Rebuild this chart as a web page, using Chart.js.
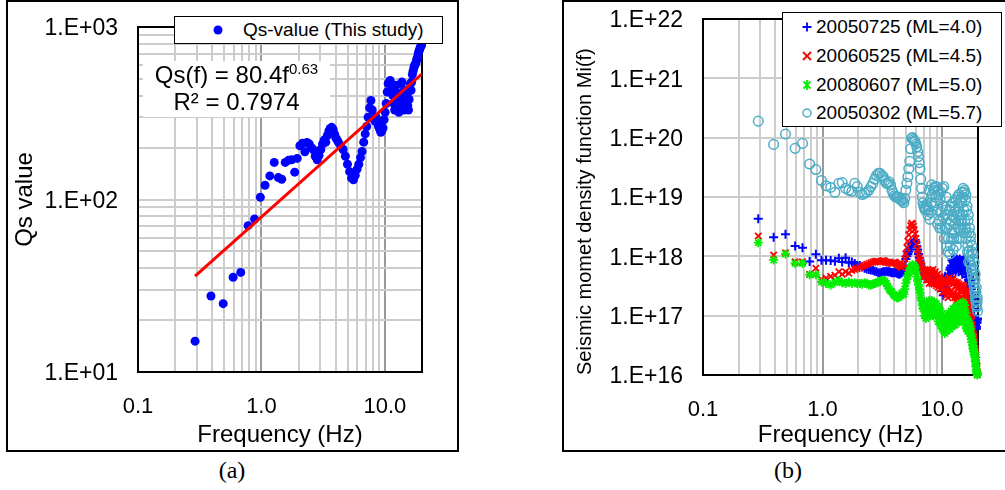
<!DOCTYPE html>
<html>
<head>
<meta charset="utf-8">
<script src="https://cdn.jsdelivr.net/npm/chart.js@4.4.0/dist/chart.umd.min.js"></script>
<style>
  body { margin: 0; background: #fff; }
  #page { position: relative; width: 1005px; height: 490px; overflow: hidden; font-family: 'Liberation Sans', Arial, sans-serif; color: #000; }
  .panel { position: absolute; top: 0; height: 452px; border: 2px solid #000; box-sizing: border-box; }
  canvas { position: absolute; }
  .legend { position: absolute; background: #fff; border: 1.5px solid #000; box-sizing: border-box; font-size: 19px; }
  .row { position: absolute; left: 0; right: 0; height: 28px; line-height: 28px; white-space: nowrap; }
  .row svg { position: absolute; top: 8px; }
  .row span { position: absolute; }
  #eq { position: absolute; left: 143px; top: 61px; width: 187px; height: 56px; background: #fff; font-size: 24px; line-height: 27px; text-align: center; }
  #eq sup { font-size: 15px; line-height: 0; vertical-align: 9px; }
  .caption { position: absolute; top: 456px; width: 64px; text-align: center; font: 24px 'Liberation Serif', 'Times New Roman', serif; line-height: 28px; }
</style>
</head>
<body>
<div id="page">
  <div class="panel" style="left:6px;width:453px"></div>
  <div class="panel" style="left:562px;width:460px"></div>
  <canvas id="chartA" width="449" height="448" style="left:8px;top:2px"></canvas>
  <canvas id="chartB" width="440" height="448" style="left:565px;top:2px"></canvas>

  <div id="eq">Qs(f) = 80.4f<sup>0.63</sup><br>R² = 0.7974</div>

  <div class="legend" style="left:174px;top:16px;width:269px;height:28px">
    <div class="row" style="top:-1.5px">
      <svg width="12" height="12" style="left:37px"><circle cx="6" cy="6" r="4.5" fill="#0000ff"/></svg>
      <span style="left:68px">Qs-value (This study)</span>
    </div>
  </div>

  <div class="legend" style="left:782px;top:12px;width:220px;height:115px">
    <div class="row" style="top:0px">
      <svg width="12" height="12" style="left:18px"><path d="M1.5 6H10.5M6 1.5V10.5" stroke="#0000ff" stroke-width="1.8"/></svg>
      <span style="left:33px">20050725 (ML=4.0)</span>
    </div>
    <div class="row" style="top:29px">
      <svg width="12" height="12" style="left:18px"><path d="M2 2L10 10M10 2L2 10" stroke="#ff0000" stroke-width="1.8"/></svg>
      <span style="left:33px">20060525 (ML=4.5)</span>
    </div>
    <div class="row" style="top:58px">
      <svg width="12" height="12" style="left:18px"><path d="M2.5 2.5L9.5 9.5M9.5 2.5L2.5 9.5M6 1V11" stroke="#00ee00" stroke-width="1.8"/></svg>
      <span style="left:33px">20080607 (ML=5.0)</span>
    </div>
    <div class="row" style="top:86px">
      <svg width="12" height="12" style="left:18px"><circle cx="6" cy="6" r="4" fill="none" stroke="#4bacc6" stroke-width="1.5"/></svg>
      <span style="left:33px">20050302 (ML=5.7)</span>
    </div>
  </div>

  <div class="caption" style="left:200px">(a)</div>
  <div class="caption" style="left:756px">(b)</div>
</div>

<script>
// --- data: panel (a), Qs values ---
const freqA = [
  0.29, 0.39, 0.49, 0.59, 0.68, 0.78, 0.88, 0.98, 1.07, 1.17, 1.27, 1.37, 1.46, 1.56, 1.66, 1.76, 1.86, 1.95,
  2.05, 2.15, 2.25, 2.34, 2.44, 2.54, 2.64, 2.73, 2.83, 2.93, 3.03, 3.13, 3.22, 3.32, 3.42, 3.52, 3.61, 3.71, 3.81, 3.91, 4.00, 4.10, 4.20,
  4.39, 4.59, 4.79, 4.98, 5.18, 5.37, 5.57, 5.76, 5.96, 6.15, 6.35, 6.54, 6.74, 6.93, 7.13, 7.32, 7.52, 7.71, 7.91, 8.11, 8.30, 8.50, 8.69, 8.89, 9.08, 9.28, 9.47, 9.67, 9.86,
  10.06, 10.25, 10.45, 10.64, 10.84, 11.04, 11.23, 11.43, 11.62, 11.82, 12.01, 12.21, 12.40, 12.60, 12.79, 12.99, 13.18, 13.38, 13.57, 13.77,
  13.96, 14.16, 14.36, 14.55, 14.75, 14.94, 15.14, 15.33, 15.53, 15.72, 15.92, 16.11, 16.31, 16.50, 16.70, 16.89, 17.09, 17.29, 17.48, 17.68,
  17.87, 18.07, 18.26, 18.46, 18.65, 18.85, 19.04, 19.24, 19.43, 19.63, 19.82
];
const qsA = [
  15.1, 27.6, 24.9, 35.4, 37.8, 70.5, 77, 103, 121, 137, 164, 134, 131, 164, 169, 170, 144, 173,
  205, 212, 189, 214, 210, 200, 194, 178, 170, 180, 195, 210, 221, 215, 235, 250, 258, 262, 255, 240, 228, 222, 215,
  205, 195, 178, 160, 145, 133, 130, 138, 150, 160, 175, 190, 215, 240, 265, 300, 340, 375, 330, 295, 285, 300, 280, 265, 255, 245, 250, 260, 290,
  320, 360, 420, 470, 480, 490, 470, 440, 400, 360, 330, 420, 460, 380, 340, 320, 350, 400, 470, 480,
  420, 360, 330, 340, 380, 430, 400, 350, 330, 380, 430, 470, 430, 480, 530, 550, 570, 590, 600, 610,
  620, 640, 660, 670, 700, 720, 735, 750, 765, 775, 785
];
// power-law trend line, end points
const trendFreq = [0.29, 20];
const trendQs = [36, 535];

// --- data: panel (b), seismic moment density ---
const freqB = [
  0.29, 0.39, 0.49, 0.59, 0.68, 0.78, 0.88, 0.98, 1.07, 1.17, 1.27, 1.37, 1.46, 1.56, 1.66, 1.76, 1.86, 1.95,
  2.05, 2.25, 2.44, 2.64, 2.83, 3.03, 3.22, 3.42, 3.61, 3.81, 4.00, 4.20, 4.39, 4.59, 4.79, 4.98, 5.18, 5.37, 5.57, 5.76,
  5.96, 6.15, 6.35, 6.54, 6.74, 6.93, 7.13, 7.32, 7.52, 7.71, 7.91, 8.11, 8.30, 8.50, 8.69, 8.89, 9.08, 9.28, 9.47, 9.67, 9.86,
  10.06, 10.25, 10.45, 10.64, 10.84, 11.04, 11.23, 11.43, 11.62, 11.82, 12.01, 12.21, 12.40, 12.60, 12.79, 12.99, 13.18, 13.38, 13.57, 13.77,
  13.96, 14.16, 14.36, 14.55, 14.75, 14.94, 15.14, 15.33, 15.53, 15.72, 15.92, 16.11, 16.31, 16.50, 16.70, 16.89, 17.09, 17.29, 17.48, 17.68,
  17.87, 18.07, 18.26, 18.46, 18.65, 18.85, 19.04, 19.24, 19.43, 19.63, 19.82
];
// in-between samples above 2 Hz, where the points crowd together
const freqMid = [
  2.15, 2.34, 2.54, 2.73, 2.93, 3.13, 3.32, 3.52, 3.71, 3.91, 4.10, 4.30, 4.49, 4.69, 4.88, 5.08, 5.27, 5.47, 5.66, 5.86,
  6.05, 6.25, 6.45, 6.64, 6.84, 7.03, 7.23, 7.42, 7.62, 7.81,
  8.01, 8.20, 8.40, 8.59, 8.79, 8.98, 9.18, 9.38, 9.57, 9.77,
  9.96, 10.16, 10.35, 10.55, 10.74, 10.94, 11.13, 11.33, 11.52, 11.72,
  11.91, 12.11, 12.30, 12.50, 12.70, 12.89, 13.09, 13.28, 13.48, 13.67,
  13.87, 14.06, 14.26, 14.45, 14.65, 14.84, 15.04, 15.23, 15.43, 15.62,
  15.82, 16.02, 16.21, 16.41, 16.60, 16.80, 16.99, 17.19, 17.38, 17.58,
  17.77, 17.97, 18.16, 18.36, 18.55, 18.75, 18.95, 19.14, 19.34, 19.53, 19.73
];

const m20050725 = [
  4.3e18, 2.1e18, 2.35e18, 1.5e18, 1.4e18, 8.2e17, 1.08e18, 8.6e17, 8.6e17, 8.5e17, 8.3e17, 9.3e17, 8.0e17, 9.5e17, 7.8e17, 8.0e17, 7.6e17, 7.0e17,
  7.0e17, 6.3e17, 6.0e17, 5.8e17, 5.5e17, 5.2e17, 5.5e17, 5.6e17, 5.5e17, 5.3e17, 5.4e17, 5.2e17, 5.0e17, 5.3e17, 5.8e17, 9.0e17, 1.1e18, 1.3e18, 1.6e18, 1.7e18,
  1.9e18, 1.5e18, 1.1e18, 8.5e17, 6.5e17, 5.8e17, 5.0e17, 4.5e17, 4.8e17, 4.5e17, 4.2e17, 5.0e17, 4.8e17, 4.5e17, 4.0e17, 4.2e17, 3.8e17, 4.0e17, 3.6e17, 3.5e17, 3.6e17,
  3.0e17, 2.2e17, 3.8e17, 4.6e17, 2.4e17, 3.5e17, 5.0e17, 4.0e17, 6.0e17, 4.5e17, 7.0e17, 5.5e17, 8.0e17, 6.0e17, 8.5e17, 5.5e17, 7.5e17, 6.5e17, 8.0e17, 5.5e17,
  7.0e17, 8.0e17, 6.0e17, 7.5e17, 5.0e17, 7.0e17, 8.0e17, 6.0e17, 7.0e17, 5.0e17, 6.5e17, 5.5e17, 4.5e17, 6.0e17, 4.0e17, 4.5e17, 3.5e17, 3.0e17, 4.0e17, 2.5e17,
  2.0e17, 1.8e17, 1.5e17, 1.2e17, 9.0e16, 8.0e16, 7.0e16, 6.0e16, 6.5e16, 8.0e16, 9.0e16
];
const m20050725Mid = [
  6.6e17, 6.1e17, 5.9e17, 5.6e17, 5.3e17, 5.4e17, 5.5e17, 5.5e17, 5.4e17, 5.3e17, 5.3e17, 5.1e17, 5.1e17, 5.5e17, 7.0e17, 1.0e18, 1.2e18, 1.45e18, 1.65e18, 1.8e18,
  1.7e18, 1.3e18, 9.5e17, 7.5e17, 6.0e17, 5.4e17, 4.7e17, 4.6e17, 4.6e17, 4.3e17,
  4.6e17, 4.9e17, 4.6e17, 4.2e17, 4.1e17, 4.0e17, 3.9e17, 3.8e17, 3.5e17, 3.5e17,
  2.6e17, 3.3e17, 2.8e17, 3.2e17, 3.0e17, 2.8e17, 4.3e17, 4.8e17, 5.0e17, 6.5e17,
  6.0e17, 8.5e17, 6.5e17, 9.0e17, 7.0e17, 8.0e17, 6.0e17, 9.0e17, 7.0e17, 8.5e17,
  6.5e17, 9.0e17, 7.0e17, 8.5e17, 6.5e17, 8.5e17, 6.5e17, 9.0e17, 6.0e17, 8.0e17,
  6.0e17, 7.5e17, 5.0e17, 5.5e17, 5.0e17, 3.8e17, 4.5e17, 3.2e17, 3.5e17, 2.8e17,
  2.2e17, 1.9e17, 1.6e17, 1.3e17, 1.0e17, 8.5e16, 7.5e16, 6.5e16, 6.0e16, 7.5e16, 8.5e16
];
const m20060525 = [
  2.2e18, 1.05e18, 1.15e18, 8.1e17, 8.1e17, 5.0e17, 6.3e17, 4.1e17, 4.3e17, 4.6e17, 4.8e17, 5.5e17, 5.0e17, 5.5e17, 5.2e17, 5.8e17, 6.0e17, 6.2e17,
  6.5e17, 7.0e17, 7.5e17, 8.0e17, 8.3e17, 8.0e17, 8.5e17, 8.0e17, 7.8e17, 7.5e17, 8.0e17, 7.5e17, 7.0e17, 6.5e17, 7.5e17, 1.1e18, 1.8e18, 2.8e18, 3.6e18, 3.2e18,
  2.4e18, 1.6e18, 1.1e18, 8.5e17, 7.0e17, 5.5e17, 5.0e17, 4.5e17, 5.5e17, 4.0e17, 5.0e17, 4.2e17, 5.5e17, 4.0e17, 5.0e17, 3.5e17, 4.5e17, 3.0e17, 3.8e17, 2.8e17, 3.2e17,
  3.0e17, 3.8e17, 2.5e17, 3.5e17, 2.2e17, 3.2e17, 2.0e17, 3.0e17, 2.4e17, 3.8e17, 2.6e17, 4.0e17, 2.4e17, 3.5e17, 2.0e17, 3.2e17, 1.8e17, 2.8e17, 2.2e17, 3.0e17,
  1.7e17, 2.6e17, 2.0e17, 2.9e17, 1.8e17, 2.6e17, 2.0e17, 2.7e17, 1.8e17, 2.4e17, 1.6e17, 2.2e17, 1.5e17, 1.9e17, 1.4e17, 1.5e17, 1.3e17, 1.1e17, 1.0e17, 8.5e16,
  7.0e16, 6.0e16, 5.0e16, 4.5e16, 4.0e16, 3.5e16, 2.8e16, 2.2e16, 1.8e16, 1.4e16, 1.1e16
];
const m20060525Mid = [
  6.8e17, 7.3e17, 7.8e17, 8.2e17, 8.2e17, 8.3e17, 8.3e17, 7.9e17, 7.7e17, 7.8e17, 7.8e17, 7.2e17, 6.8e17, 7.0e17, 9.0e17, 1.4e18, 2.3e18, 3.3e18, 3.5e18, 2.8e18,
  2.0e18, 1.3e18, 9.5e17, 7.5e17, 6.2e17, 4.5e17, 6.0e17, 4.0e17, 6.0e17, 3.5e17,
  5.8e17, 3.5e17, 6.0e17, 3.4e17, 5.5e17, 3.2e17, 5.0e17, 3.4e17, 4.5e17, 3.6e17,
  3.8e17, 2.5e17, 4.2e17, 2.6e17, 4.0e17, 2.5e17, 3.8e17, 2.4e17, 4.4e17, 2.2e17,
  4.0e17, 2.2e17, 4.2e17, 2.3e17, 3.8e17, 2.2e17, 3.6e17, 2.0e17, 3.6e17, 1.9e17,
  3.4e17, 1.8e17, 3.2e17, 2.0e17, 3.3e17, 1.9e17, 3.2e17, 1.8e17, 3.0e17, 1.7e17,
  2.6e17, 1.8e17, 2.3e17, 1.6e17, 1.7e17, 1.4e17, 1.2e17, 1.05e17, 9.0e16, 8.0e16,
  6.5e16, 5.5e16, 4.8e16, 4.2e16, 3.8e16, 3.2e16, 2.5e16, 2.0e16, 1.6e16, 1.25e16, 1.0e16
];
const m20080607 = [
  1.7e18, 8.7e17, 1.1e18, 7.6e17, 7.6e17, 4.9e17, 4.9e17, 3.7e17, 3.5e17, 3.3e17, 3.6e17, 3.9e17, 3.6e17, 3.5e17, 3.7e17, 3.5e17, 3.6e17, 3.5e17,
  3.5e17, 3.6e17, 3.3e17, 3.4e17, 3.6e17, 3.8e17, 4.0e17, 3.5e17, 2.8e17, 2.5e17, 2.2e17, 2.0e17, 2.1e17, 2.4e17, 2.3e17, 3.5e17, 4.8e17, 5.8e17, 6.8e17, 7.0e17,
  6.5e17, 4.5e17, 3.3e17, 2.4e17, 1.8e17, 1.3e17, 1.0e17, 9.0e16, 1.3e17, 1.0e17, 1.5e17, 1.2e17, 1.6e17, 1.1e17, 1.4e17, 1.0e17, 1.2e17, 8.0e16, 1.1e17, 7.0e16, 9.0e16,
  6.0e16, 8.0e16, 5.5e16, 7.5e16, 6.0e16, 8.5e16, 6.5e16, 9.0e16, 7.0e16, 1.0e17, 7.5e16, 1.1e17, 8.0e16, 1.0e17, 7.0e16, 1.1e17, 8.5e16, 1.2e17, 9.0e16, 1.3e17,
  1.0e17, 1.2e17, 9.5e16, 1.35e17, 1.0e17, 1.4e17, 1.1e17, 1.3e17, 9.0e16, 1.1e17, 8.0e16, 9.0e16, 7.0e16, 8.0e16, 6.0e16, 7.5e16, 6.5e16, 6.0e16, 5.0e16, 4.5e16,
  4.0e16, 3.5e16, 3.0e16, 2.7e16, 2.4e16, 2.2e16, 1.8e16, 1.5e16, 1.2e16, 1.1e16, 1.05e16
];
const m20080607Mid = [
  3.4e17, 3.5e17, 3.3e17, 3.5e17, 3.7e17, 3.9e17, 3.8e17, 3.1e17, 2.6e17, 2.3e17, 2.1e17, 2.0e17, 2.2e17, 2.3e17, 2.8e17, 4.1e17, 5.3e17, 6.3e17, 7.2e17, 6.8e17,
  5.5e17, 3.8e17, 2.8e17, 2.0e17, 1.5e17, 1.6e17, 1.2e17, 1.6e17, 1.2e17, 1.8e17,
  1.0e17, 1.8e17, 1.0e17, 1.7e17, 1.1e17, 1.6e17, 1.0e17, 1.4e17, 9.0e16, 1.2e17,
  8.0e16, 6.0e16, 9.5e16, 5.0e16, 9.0e16, 5.5e16, 1.05e17, 6.0e16, 1.1e17, 6.0e16,
  1.2e17, 6.5e16, 1.3e17, 7.0e16, 1.3e17, 7.0e16, 1.4e17, 7.5e16, 1.5e17, 8.0e16,
  1.5e17, 8.0e16, 1.6e17, 8.5e16, 1.6e17, 9.0e16, 1.7e17, 8.0e16, 1.5e17, 7.0e16,
  1.1e17, 6.0e16, 8.5e16, 5.5e16, 7.0e16, 6.0e16, 5.5e16, 5.0e16, 4.5e16, 4.0e16,
  3.6e16, 3.2e16, 2.8e16, 2.5e16, 2.2e16, 2.0e16, 1.7e16, 1.4e16, 1.2e16, 1.1e16, 1.0e16
];
const m20050302 = [
  1.9e20, 7.7e19, 1.15e20, 6.6e19, 8.0e19, 3.6e19, 2.9e19, 1.9e19, 1.55e19, 1.45e19, 1.2e19, 1.7e19, 1.75e19, 1.4e19, 1.3e19, 1.25e19, 1.7e19, 1.5e19,
  1.2e19, 1.15e19, 1.3e19, 1.7e19, 2.3e19, 2.5e19, 2.2e19, 1.7e19, 1.8e19, 1.3e19, 1.05e19, 1.0e19, 9.5e18, 8.9e18, 8.0e18, 1.3e19, 2.2e19, 4.0e19, 9.8e19, 9.3e19,
  8.5e19, 7.0e19, 4.8e19, 3.0e19, 1.4e19, 8.0e18, 6.5e18, 6.2e18, 7.0e18, 6.0e18, 4.2e18, 8.0e18, 1.1e19, 1.3e19, 1.5e19, 1.0e19, 6.0e18, 1.3e19, 4.0e18, 9.0e18, 5.5e18,
  1.4e19, 4.5e18, 2.0e18, 5.0e18, 1.0e19, 3.0e18, 1.2e18, 3.5e18, 1.1e18, 4.0e18, 2.0e18, 5.0e18, 1.3e18, 4.5e18, 2.5e18, 6.0e18, 1.5e18, 5.5e18, 3.0e18, 7.0e18,
  2.0e18, 5.0e18, 2.8e18, 8.0e18, 3.5e18, 1.0e19, 2.5e18, 1.2e19, 4.0e18, 9.0e18, 2.0e18, 6.0e18, 1.2e18, 4.0e18, 8.0e17, 2.5e18, 1.0e18, 1.8e18, 7.0e17, 1.2e18,
  5.0e17, 9.0e17, 4.0e17, 6.0e17, 3.0e17, 4.0e17, 2.0e17, 2.5e17, 1.5e17, 1.7e17, 1.2e17
];
const m20050302Mid = [
  1.1e19, 1.2e19, 1.5e19, 2.0e19, 2.5e19, 2.3e19, 1.9e19, 1.7e19, 1.6e19, 1.15e19, 1.0e19, 1.0e19, 9.0e18, 8.5e18, 9.5e18, 1.7e19, 3.0e19, 6.5e19, 1.0e20, 8.8e19,
  7.8e19, 5.8e19, 3.8e19, 2.0e19, 1.0e19, 7.0e18, 6.0e18, 7.5e18, 5.0e18, 1.3e19,
  5.5e18, 1.6e19, 7.0e18, 1.4e19, 8.0e18, 1.5e19, 3.5e18, 1.1e19, 3.0e18, 1.2e19,
  3.0e18, 7.0e18, 1.5e19, 3.0e18, 6.0e18, 1.5e18, 5.0e18, 2.0e18, 6.0e18, 1.5e18,
  7.0e18, 2.5e18, 8.0e18, 2.0e18, 7.0e18, 3.5e18, 9.0e18, 2.0e18, 1.0e19, 4.0e18,
  1.1e19, 3.0e18, 9.0e18, 4.0e18, 1.2e19, 5.0e18, 1.4e19, 6.0e18, 1.3e19, 3.0e18,
  1.1e19, 2.5e18, 7.0e18, 1.5e18, 5.0e18, 1.2e18, 3.0e18, 8.0e17, 2.2e18, 6.0e17,
  1.5e18, 4.5e17, 1.1e18, 3.5e17, 8.0e17, 2.5e17, 5.0e17, 1.8e17, 3.0e17, 1.4e17, 2.0e17
];

// --- axis ticks ---
const freqTicks = [0.1, 0.2, 0.3, 0.4, 0.5, 0.6, 0.7, 0.8, 0.9, 1, 2, 3, 4, 5, 6, 7, 8, 9, 10, 20];
const qsTicks = [10, 20, 30, 40, 50, 60, 70, 80, 90, 100, 200, 300, 400, 500, 600, 700, 800, 900, 1000];
const momentTicks = [1e16, 1e17, 1e18, 1e19, 1e20, 1e21, 1e22];

Chart.defaults.font.family = "'Liberation Sans', Arial, sans-serif";
Chart.defaults.color = '#000';

function isDecade(v) {
  const e = Math.log10(v);
  return Math.abs(e - Math.round(e)) < 1e-6;
}
function freqLabel(v) {
  return isDecade(v) ? v.toFixed(1) : '';
}
function expLabel(v) {
  if (!isDecade(v)) return '';
  return '1.E+' + String(Math.round(Math.log10(v))).padStart(2, '0');
}
function pairs(xs, ys) {
  return xs.map((x, i) => ({ x: x, y: ys[i] }));
}

// black frame round the plot area
const framePlugin = {
  id: 'frame',
  beforeDatasetsDraw(chart) {
    const { ctx, chartArea: a } = chart;
    ctx.save();
    ctx.strokeStyle = '#000';
    ctx.lineWidth = 2;
    ctx.strokeRect(a.left, a.top, a.right - a.left, a.bottom - a.top);
    ctx.restore();
  }
};

function freqAxis(height) {
  return {
    type: 'logarithmic',
    min: 0.1,
    max: 20,
    afterBuildTicks: s => { s.ticks = freqTicks.map(v => ({ value: v })); },
    afterFit: s => { s.height = height; s.paddingLeft = 0; s.paddingRight = 0; },
    ticks: { autoSkip: false, maxRotation: 0, padding: 22, font: { size: 22 }, callback: freqLabel },
    grid: { drawTicks: false, lineWidth: 2, color: c => isDecade(c.tick.value) ? '#9a9a9a' : '#cccccc' },
    border: { display: false },
    title: { display: true, text: 'Frequency (Hz)', font: { size: 24 }, padding: 0 }
  };
}

// left axis: fixed width, no extra top/bottom padding from the labels
function fixLeftAxis(width) {
  return s => { s.width = width; s.paddingTop = 0; s.paddingBottom = 0; };
}

// --- panel (a) ---
new Chart(document.getElementById('chartA'), {
  type: 'scatter',
  data: {
    datasets: [
      {
        type: 'line',
        data: pairs(trendFreq, trendQs),
        borderColor: '#ff0000',
        borderWidth: 3,
        pointRadius: 0,
        showLine: true,
        order: 0
      },
      {
        data: pairs(freqA, qsA),
        backgroundColor: '#0000ff',
        borderColor: '#0000ff',
        pointRadius: 4.5,
        borderWidth: 0,
        clip: false,
        order: 1
      }
    ]
  },
  options: {
    responsive: false,
    animation: false,
    devicePixelRatio: 1,
    layout: { padding: { top: 25, right: 35, left: 0, bottom: 0 } },
    plugins: { legend: { display: false }, tooltip: { enabled: false } },
    scales: {
      x: freqAxis(78),
      y: {
        type: 'logarithmic',
        min: 10,
        max: 1000,
        afterBuildTicks: s => { s.ticks = qsTicks.map(v => ({ value: v })); },
        afterFit: fixLeftAxis(130),
        ticks: { autoSkip: false, padding: 20, labelOffset: 2, font: { size: 23 }, callback: expLabel },
        grid: { drawTicks: false, lineWidth: 2, color: '#cccccc' },
        border: { display: false },
        title: { display: true, text: 'Qs value', font: { size: 24 }, padding: { top: 3, bottom: 0 } }
      }
    }
  },
  plugins: [framePlugin]
});

// --- panel (b) ---
function momentSet(values, midValues, style, color, radius, width, order) {
  return {
    data: pairs(freqB, values).concat(pairs(freqMid, midValues)),
    pointStyle: style,
    pointRadius: radius,
    borderWidth: width,
    borderColor: color,
    backgroundColor: style === 'circle' ? 'rgba(0,0,0,0)' : color,
    clip: false,
    order: order
  };
}

new Chart(document.getElementById('chartB'), {
  type: 'scatter',
  data: {
    datasets: [
      momentSet(m20050725, m20050725Mid, 'cross', '#0000ff', 4.5, 2, 4),
      momentSet(m20060525, m20060525Mid, 'crossRot', '#ff0000', 4.5, 1.8, 3),
      momentSet(m20080607, m20080607Mid, 'star', '#00ee00', 4.5, 1.8, 2),
      momentSet(m20050302, m20050302Mid, 'circle', '#4bacc6', 4.8, 1.5, 1)
    ]
  },
  options: {
    responsive: false,
    animation: false,
    devicePixelRatio: 1,
    layout: { padding: { top: 17, right: 27, left: 0, bottom: 0 } },
    plugins: { legend: { display: false }, tooltip: { enabled: false } },
    scales: {
      x: freqAxis(75),
      y: {
        type: 'logarithmic',
        min: 1e16,
        max: 1e22,
        afterBuildTicks: s => { s.ticks = momentTicks.map(v => ({ value: v })); },
        afterFit: fixLeftAxis(138),
        ticks: { autoSkip: false, padding: 20, labelOffset: 2, font: { size: 23 }, callback: expLabel },
        grid: { drawTicks: false, lineWidth: 2, color: '#cccccc' },
        border: { display: false },
        title: { display: true, text: 'Seismic momet density function Mi(f)', align: 'start', font: { size: 20 }, padding: { top: 8, bottom: 0 } }
      }
    }
  },
  plugins: [framePlugin]
});
</script>
</body>
</html>
